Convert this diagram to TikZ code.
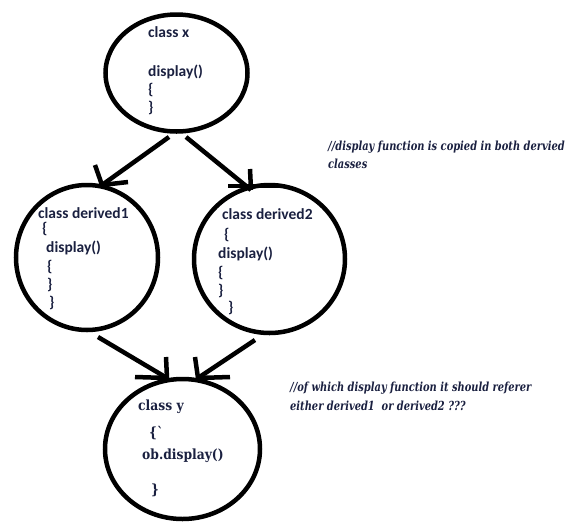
\documentclass[tikz,border=0pt]{standalone}
\usepackage{fontspec}
\usepackage{graphicx}
\newfontfamily\calibfont{Carlito}
\newfontfamily\djser{DejaVu Serif}
\usetikzlibrary{shapes.geometric}
\definecolor{ink}{HTML}{1A2040}
\newcommand{\squeeze}[1]{\scalebox{0.79}[1]{#1}}
\newcommand{\squeezey}[1]{\scalebox{0.88}[1]{#1}}
\begin{document}
\begin{tikzpicture}[x=1pt,y=-1pt,
  circ/.style={draw, ellipse, line width=4.5pt, inner sep=0pt},
  lbl/.style={anchor=west, inner sep=0pt, text=ink, font=\calibfont\bfseries\fontsize{15.5}{18}\selectfont},
  slbl/.style={anchor=west, inner sep=0pt, text=ink, font=\djser\bfseries\fontsize{14}{19}\selectfont},
  cmt/.style={anchor=west, inner sep=0pt, text=ink, font=\djser\bfseries\itshape\fontsize{12.5}{16}\selectfont},
  conn/.style={line width=4.5pt},
  barb/.style={line width=4.5pt}]
\useasboundingbox (0,0) rectangle (571,523);

% circles
\node[circ, minimum width=142pt, minimum height=117pt] (cx) at (176.5,73) {};
\node[circ, minimum width=142pt, minimum height=145pt] (cd1) at (87,257.5) {};
\node[circ, minimum width=151pt, minimum height=148pt] (cd2) at (269.5,259) {};
\node[circ, minimum width=155pt, minimum height=140pt] (cy) at (182.5,449) {};

% class x text
\node[lbl] (x1) at (148,32) {class x};
\node[lbl] (x2) at (148,72) {display()};
\node[lbl] (x3) at (148,90) {\{};
\node[lbl] (x4) at (148,108) {\}};

% derived1 text
\node[lbl] (a1) at (38,213) {class derived1};
\node[lbl] (a2) at (42,229) {\{};
\node[lbl] (a3) at (46,248) {display()};
\node[lbl] (a4) at (47,267) {\{};
\node[lbl] (a5) at (47,285) {\}};
\node[lbl] (a6) at (49,303) {\}};

% derived2 text
\node[lbl] (b1) at (222,214) {class derived2};
\node[lbl] (b2) at (224,235) {\{};
\node[lbl] (b3) at (218,254) {display()};
\node[lbl] (b4) at (218,273) {\{};
\node[lbl] (b5) at (218,291) {\}};
\node[lbl] (b6) at (228,308) {\}};

% class y text
\node[slbl] (y1) at (138,407) {\squeezey{class y}};
\node[slbl] (y2) at (149,433) {\squeezey{\{\textasciigrave}};
\node[slbl] (y3) at (142,456) {\squeezey{ob.display()}};
\node[slbl] (y4) at (151,490) {\squeezey{\}}};

% comments
\node[cmt] (c1) at (328,147) {\squeeze{//display function is copied in both dervied}};
\node[cmt] (c2) at (328,164) {\squeeze{classes}};
\node[cmt] (c3) at (290,388) {\squeeze{//of which display function it should referer}};
\node[cmt] (c4) at (290,406) {\squeeze{either derived1\ \ or derived2 ???}};

% connector ends
\coordinate (s1) at (169,137);
\coordinate (t1) at (102,185);
\coordinate (s2) at (186,137);
\coordinate (t2) at (251,190);
\coordinate (s3) at (98,337);
\coordinate (t3) at (167,378);
\coordinate (s4) at (255,340);
\coordinate (t4) at (198,378);

\draw[conn] (s1) -- (t1);
\draw[conn] (s2) -- (t2);
\draw[conn] (s3) -- (t3);
\draw[conn] (s4) -- (t4);

% hand-drawn arrow barbs
\draw[barb] (t1) -- ++(-7,-20);
\draw[barb] (t1) -- ++(26,-3);
\draw[barb] (t2) -- ++(-1,-21);
\draw[barb] (t2) ++(-23,-4) -- ++(50,0);
\draw[barb] (t3) -- ++(-1,-21);
\draw[barb] (t3) -- ++(-32,-1);
\draw[barb] (t4) -- ++(-3,-21);
\draw[barb] (t4) -- ++(32,-1);
\end{tikzpicture}
\end{document}
